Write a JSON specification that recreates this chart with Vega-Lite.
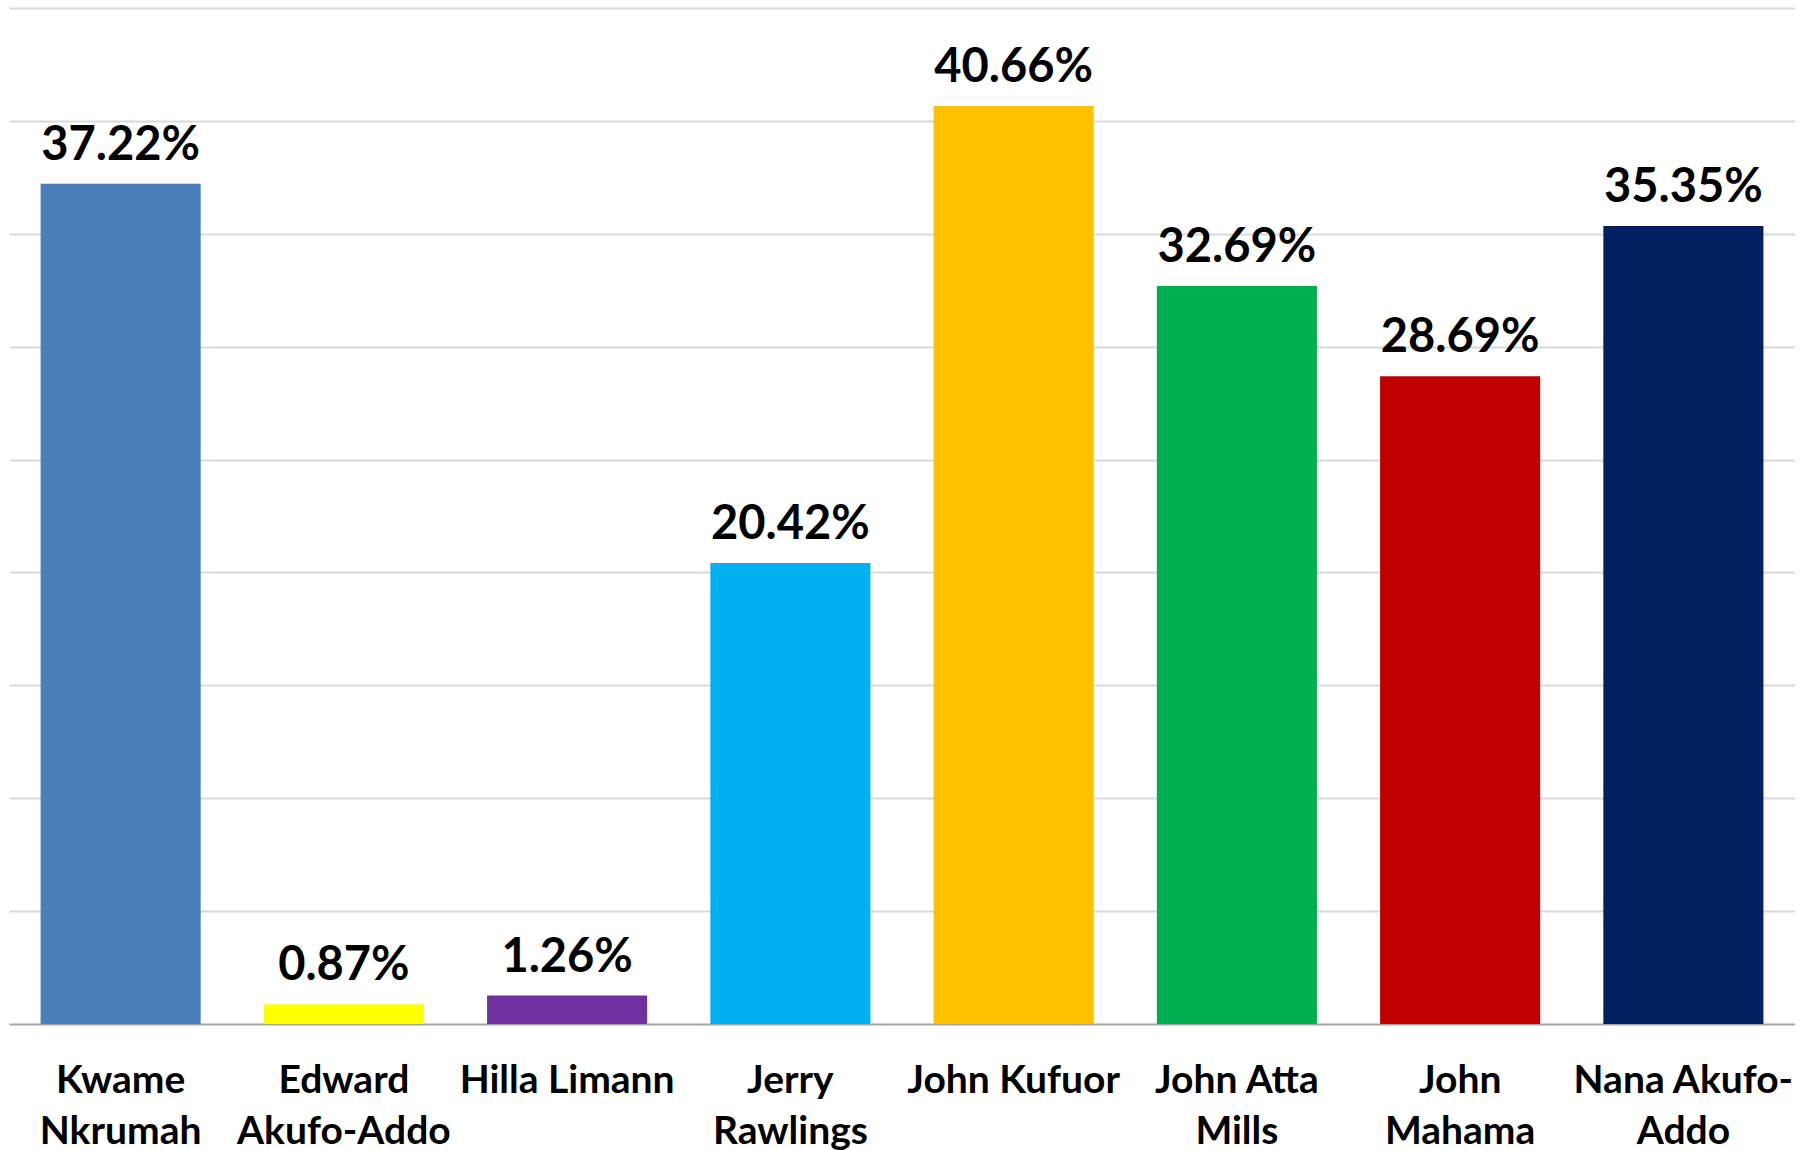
{
  "$schema": "https://vega.github.io/schema/vega-lite/v6.json",
  "width": 1786,
  "height": 1016,
  "padding": {"left": 9, "top": 8, "right": 0, "bottom": 0},
  "background": "white",
  "config": {"view": {"stroke": null}, "font": "Lato"},
  "data": {
    "values": [
      {"name": "Kwame Nkrumah", "share": 0.3722},
      {"name": "Edward Akufo-Addo", "share": 0.0087},
      {"name": "Hilla Limann", "share": 0.0126},
      {"name": "Jerry Rawlings", "share": 0.2042},
      {"name": "John Kufuor", "share": 0.4066},
      {"name": "John Atta Mills", "share": 0.3269},
      {"name": "John Mahama", "share": 0.2869},
      {"name": "Nana Akufo-Addo", "share": 0.3535}
    ]
  },
  "encoding": {
    "x": {
      "field": "name",
      "type": "nominal",
      "sort": null,
      "scale": {"paddingInner": 0.283, "paddingOuter": 0.1415},
      "axis": {
        "title": null,
        "labelAngle": 0,
        "ticks": false,
        "domainColor": "#A6A6A6",
        "domainWidth": 2,
        "labelFont": "Lato",
        "labelFontWeight": "bold",
        "labelFontSize": 39,
        "labelColor": "#000000",
        "labelPadding": 37,
        "labelLineHeight": 51,
        "labelLimit": 400,
        "labelExpr": "datum.label == 'Kwame Nkrumah' ? ['Kwame','Nkrumah'] : datum.label == 'Edward Akufo-Addo' ? ['Edward','Akufo-Addo'] : datum.label == 'Jerry Rawlings' ? ['Jerry','Rawlings'] : datum.label == 'John Atta Mills' ? ['John Atta','Mills'] : datum.label == 'John Mahama' ? ['John','Mahama'] : datum.label == 'Nana Akufo-Addo' ? ['Nana Akufo-','Addo'] : datum.label"
      }
    },
    "y": {
      "field": "share",
      "type": "quantitative",
      "scale": {"domain": [0, 0.45], "nice": false},
      "axis": {
        "title": null,
        "labels": false,
        "ticks": false,
        "domain": false,
        "grid": true,
        "gridColor": "#D9D9D9",
        "gridWidth": 2,
        "values": [0.05, 0.1, 0.15, 0.2, 0.25, 0.3, 0.35, 0.4, 0.45],
        "minExtent": 0
      }
    }
  },
  "layer": [
    {
      "mark": {"type": "bar"},
      "encoding": {
        "color": {
          "field": "name",
          "type": "nominal",
          "legend": null,
          "scale": {
            "domain": ["Kwame Nkrumah", "Edward Akufo-Addo", "Hilla Limann", "Jerry Rawlings", "John Kufuor", "John Atta Mills", "John Mahama", "Nana Akufo-Addo"],
            "range": ["#4A7EBB", "#FFFF00", "#7030A0", "#00B0F0", "#FFC000", "#00B050", "#C00000", "#002060"]
          }
        }
      }
    },
    {
      "mark": {"type": "text", "font": "Lato", "fontWeight": "bold", "fontSize": 47, "baseline": "alphabetic", "dy": -24, "color": "#000000"},
      "encoding": {
        "text": {"field": "share", "type": "quantitative", "format": ".2%"}
      }
    }
  ]
}
